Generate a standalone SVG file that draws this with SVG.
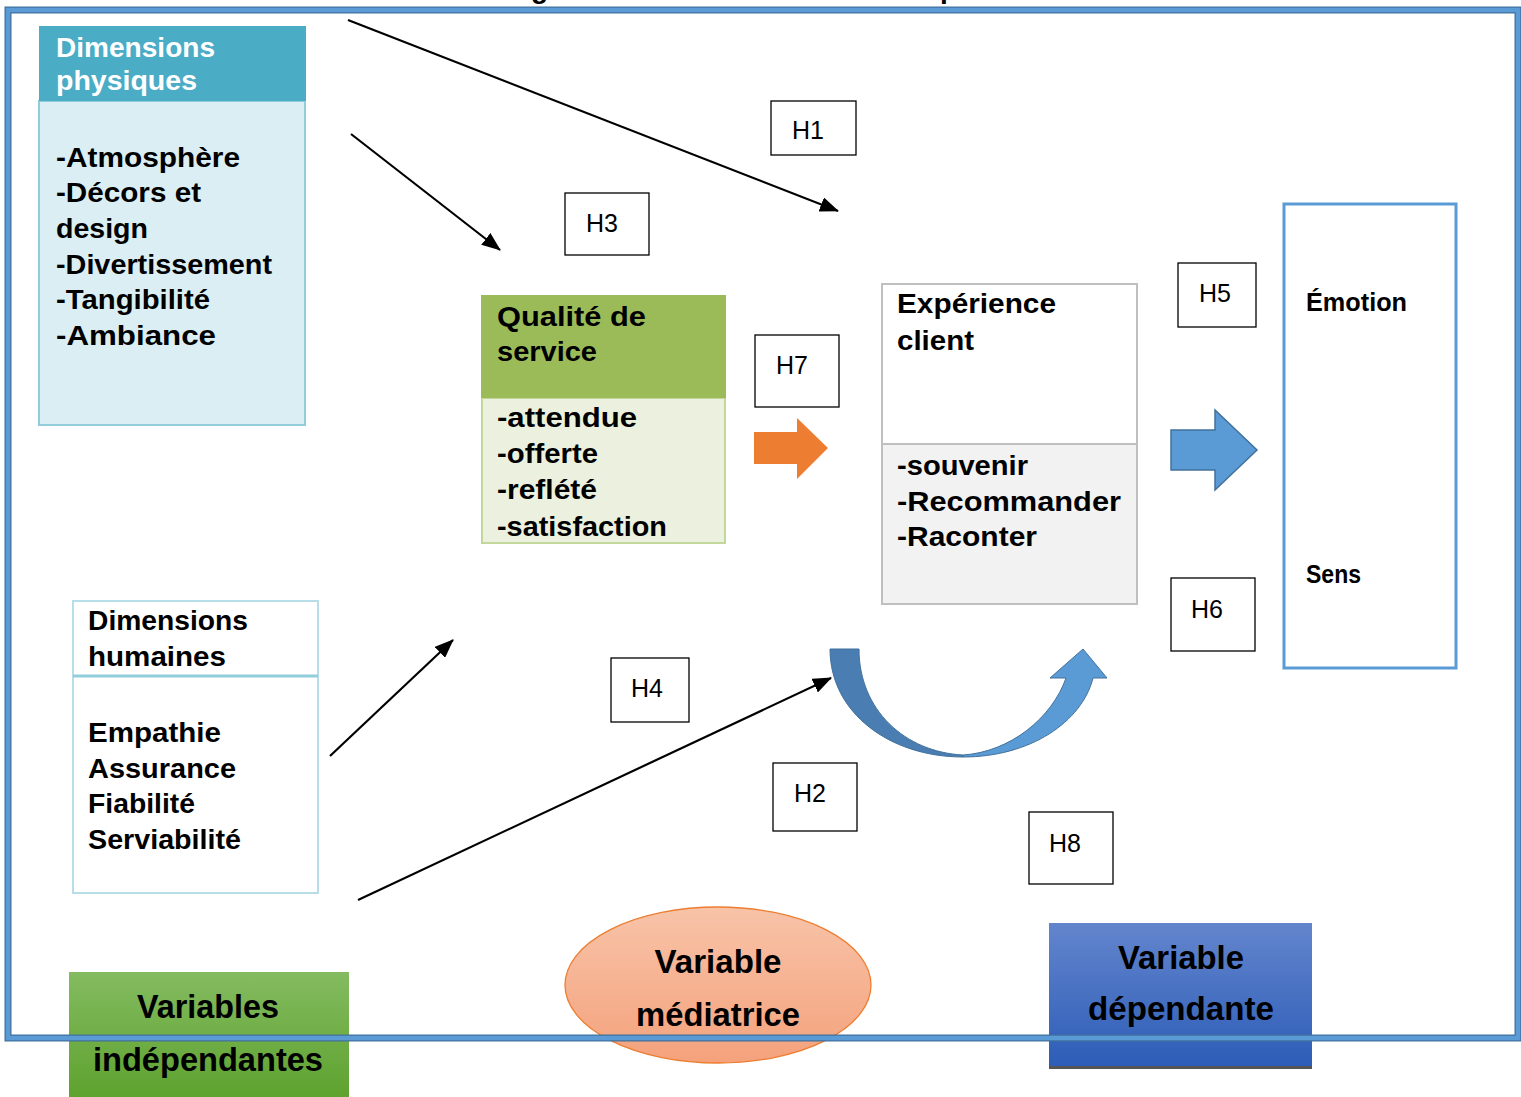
<svg xmlns="http://www.w3.org/2000/svg" width="1521" height="1097" viewBox="0 0 1521 1097">
  <style>
    .box-t { font-family: "Liberation Sans", Arial, sans-serif; font-weight: bold; font-size: 28px; fill: #000; }
    .hd-w { font-family: "Liberation Sans", Arial, sans-serif; font-weight: bold; font-size: 28px; fill: #fff; }
    .hyp { font-family: "Liberation Sans", Arial, sans-serif; font-size: 25px; fill: #000; }
    .hbox { fill: #fff; stroke: #000; stroke-width: 1.3; }
    .side { font-family: "Liberation Sans", Arial, sans-serif; font-weight: bold; font-size: 25px; fill: #000; }
    .legend { font-family: "Liberation Sans", Arial, sans-serif; font-weight: bold; font-size: 33px; fill: #000; text-anchor: middle; }
    .conn { stroke: #000; stroke-width: 2.2; fill: none; marker-end: url(#head); }
  </style>
  <defs>
    <marker id="head" markerUnits="userSpaceOnUse" markerWidth="19" markerHeight="15" refX="18" refY="7.5" orient="auto">
      <path d="M0,0 L19,7.5 L0,15 Z" fill="#000"/>
    </marker>
    <linearGradient id="gGreen" x1="0" y1="0" x2="0" y2="1">
      <stop offset="0" stop-color="#84BB60"/>
      <stop offset="1" stop-color="#5EA22F"/>
    </linearGradient>
    <linearGradient id="gSalmon" x1="0" y1="0" x2="0" y2="1">
      <stop offset="0" stop-color="#F8C3A8"/>
      <stop offset="1" stop-color="#F4A27C"/>
    </linearGradient>
    <linearGradient id="gBlue" x1="0" y1="0" x2="0" y2="1">
      <stop offset="0" stop-color="#6385CD"/>
      <stop offset="1" stop-color="#2D5DB7"/>
    </linearGradient>
  </defs>

  <rect width="1521" height="1097" fill="#fff"/>

  <!-- caption line running above the top edge, only its descenders show -->
  <text x="531" y="-2" class="box-t" font-size="26">g</text>
  <text x="940" y="-2" class="box-t" font-size="26">p</text>

  <!-- legend blocks along the bottom -->
  <g id="legend-independantes">
    <rect x="69" y="972" width="280" height="125" fill="url(#gGreen)"/>
    <text x="208" y="1018" class="legend" textLength="142" lengthAdjust="spacingAndGlyphs">Variables</text>
    <text x="208" y="1071" class="legend" textLength="230" lengthAdjust="spacingAndGlyphs">indépendantes</text>
  </g>
  <g id="legend-mediatrice">
    <ellipse cx="718" cy="985" rx="153" ry="78" fill="url(#gSalmon)" stroke="#ED7D31" stroke-width="1.3"/>
    <text x="718" y="973" class="legend" textLength="127" lengthAdjust="spacingAndGlyphs">Variable</text>
    <text x="718" y="1026" class="legend" textLength="164" lengthAdjust="spacingAndGlyphs">médiatrice</text>
  </g>
  <g id="legend-dependante">
    <rect x="1049" y="1065" width="263" height="4" fill="#555"/>
    <rect x="1049" y="923" width="263" height="143" fill="url(#gBlue)"/>
    <text x="1181" y="969" class="legend" textLength="126" lengthAdjust="spacingAndGlyphs">Variable</text>
    <text x="1181" y="1020" class="legend" textLength="186" lengthAdjust="spacingAndGlyphs">dépendante</text>
  </g>

  <!-- outer frame -->
  <rect x="8" y="10" width="1510" height="1028" fill="none" stroke="#41719C" stroke-width="7"/>
  <rect x="8" y="10" width="1510" height="1028" fill="none" stroke="#5B9BD5" stroke-width="4.5"/>

  <!-- Dimensions physiques -->
  <g id="dimensions-physiques">
    <rect x="39" y="101" width="266" height="324" fill="#DAEEF3" stroke="#92CDDC" stroke-width="2"/>
    <rect x="39" y="26" width="267" height="75" fill="#4BACC6"/>
    <text x="56" y="57" class="hd-w" textLength="159" lengthAdjust="spacingAndGlyphs">Dimensions</text>
    <text x="56" y="90" class="hd-w" textLength="141" lengthAdjust="spacingAndGlyphs">physiques</text>
    <text x="56" y="167" class="box-t" textLength="184" lengthAdjust="spacingAndGlyphs">-Atmosphère</text>
    <text x="56" y="202" class="box-t" textLength="145" lengthAdjust="spacingAndGlyphs">-Décors et</text>
    <text x="56" y="238" class="box-t" textLength="92" lengthAdjust="spacingAndGlyphs">design</text>
    <text x="56" y="274" class="box-t" textLength="216" lengthAdjust="spacingAndGlyphs">-Divertissement</text>
    <text x="56" y="309" class="box-t" textLength="154" lengthAdjust="spacingAndGlyphs">-Tangibilité</text>
    <text x="56" y="345" class="box-t" textLength="160" lengthAdjust="spacingAndGlyphs">-Ambiance</text>
  </g>

  <!-- Qualité de service -->
  <g id="qualite-service">
    <rect x="482" y="398" width="243" height="145" fill="#EBF1DE" stroke="#C3D69B" stroke-width="2"/>
    <rect x="481" y="295" width="245" height="103" fill="#9BBB59"/>
    <text x="497" y="326" class="box-t" textLength="149" lengthAdjust="spacingAndGlyphs">Qualité de</text>
    <text x="497" y="361" class="box-t" textLength="100" lengthAdjust="spacingAndGlyphs">service</text>
    <text x="497" y="427" class="box-t" textLength="140" lengthAdjust="spacingAndGlyphs">-attendue</text>
    <text x="497" y="463" class="box-t" textLength="101" lengthAdjust="spacingAndGlyphs">-offerte</text>
    <text x="497" y="499" class="box-t" textLength="100" lengthAdjust="spacingAndGlyphs">-reflété</text>
    <text x="497" y="536" class="box-t" textLength="170" lengthAdjust="spacingAndGlyphs">-satisfaction</text>
  </g>

  <!-- Expérience client -->
  <g id="experience-client">
    <rect x="882" y="284" width="255" height="160" fill="#fff" stroke="#BFBFBF" stroke-width="2"/>
    <rect x="882" y="444" width="255" height="160" fill="#F2F2F2" stroke="#BFBFBF" stroke-width="2"/>
    <text x="897" y="313" class="box-t" textLength="159" lengthAdjust="spacingAndGlyphs">Expérience</text>
    <text x="897" y="350" class="box-t" textLength="77" lengthAdjust="spacingAndGlyphs">client</text>
    <text x="897" y="475" class="box-t" textLength="131" lengthAdjust="spacingAndGlyphs">-souvenir</text>
    <text x="897" y="511" class="box-t" textLength="224" lengthAdjust="spacingAndGlyphs">-Recommander</text>
    <text x="897" y="546" class="box-t" textLength="140" lengthAdjust="spacingAndGlyphs">-Raconter</text>
  </g>

  <!-- Émotion / Sens -->
  <g id="emotion-sens">
    <rect x="1284" y="204" width="172" height="464" fill="none" stroke="#5B9BD5" stroke-width="3"/>
    <text x="1306" y="311" class="side" textLength="101" lengthAdjust="spacingAndGlyphs">Émotion</text>
    <text x="1306" y="583" class="side" textLength="55" lengthAdjust="spacingAndGlyphs">Sens</text>
  </g>

  <!-- Dimensions humaines -->
  <g id="dimensions-humaines">
    <rect x="73" y="601" width="245" height="292" fill="#fff" stroke="#B7DDE8" stroke-width="2"/>
    <line x1="73" y1="676" x2="318" y2="676" stroke="#92CDDC" stroke-width="3"/>
    <text x="88" y="630" class="box-t" textLength="160" lengthAdjust="spacingAndGlyphs">Dimensions</text>
    <text x="88" y="666" class="box-t" textLength="138" lengthAdjust="spacingAndGlyphs">humaines</text>
    <text x="88" y="742" class="box-t" textLength="133" lengthAdjust="spacingAndGlyphs">Empathie</text>
    <text x="88" y="778" class="box-t" textLength="148" lengthAdjust="spacingAndGlyphs">Assurance</text>
    <text x="88" y="813" class="box-t" textLength="107" lengthAdjust="spacingAndGlyphs">Fiabilité</text>
    <text x="88" y="849" class="box-t" textLength="153" lengthAdjust="spacingAndGlyphs">Serviabilité</text>
  </g>

  <!-- hypothesis labels -->
  <g id="h1"><rect x="771" y="101" width="85" height="54" class="hbox"/><text x="792" y="139" class="hyp">H1</text></g>
  <g id="h3"><rect x="565" y="193" width="84" height="62" class="hbox"/><text x="586" y="232" class="hyp">H3</text></g>
  <g id="h7"><rect x="755" y="335" width="84" height="72" class="hbox"/><text x="776" y="374" class="hyp">H7</text></g>
  <g id="h5"><rect x="1178" y="263" width="78" height="64" class="hbox"/><text x="1199" y="302" class="hyp">H5</text></g>
  <g id="h6"><rect x="1171" y="578" width="84" height="73" class="hbox"/><text x="1191" y="618" class="hyp">H6</text></g>
  <g id="h4"><rect x="611" y="658" width="78" height="64" class="hbox"/><text x="631" y="697" class="hyp">H4</text></g>
  <g id="h2"><rect x="773" y="763" width="84" height="68" class="hbox"/><text x="794" y="802" class="hyp">H2</text></g>
  <g id="h8"><rect x="1029" y="812" width="84" height="72" class="hbox"/><text x="1049" y="852" class="hyp">H8</text></g>

  <!-- block arrows -->
  <g id="arrow-orange">
    <path d="M754,432 L797,432 L797,418 L828,448 L797,479 L797,464 L754,464 Z" fill="#ED7D31"/>
  </g>
  <g id="arrow-blue">
    <path d="M1171,430 L1215,430 L1215,410 L1257,450 L1215,490 L1215,470 L1171,470 Z" fill="#5B9BD5" stroke="#41719C" stroke-width="1.5"/>
  </g>
  <g id="arrow-uturn">
    <path d="M830,649 C830,713 890,757 963,757 L963,755 C905,752 859,710 859,649 Z" fill="#4A7DB2" stroke="#41719C" stroke-width="1"/>
    <path d="M963,757 C1030,757 1082,722 1093,678 L1107,678 L1083,649 L1050,678 L1066,678 C1052,718 1010,752 963,755 Z" fill="#5B9BD5" stroke="#41719C" stroke-width="1"/>
  </g>

  <!-- connectors -->
  <g id="connectors">
    <line x1="348" y1="20" x2="838" y2="211" class="conn"/>
    <line x1="351" y1="134" x2="500" y2="250" class="conn"/>
    <line x1="330" y1="756" x2="453" y2="640" class="conn"/>
    <line x1="358" y1="900" x2="831" y2="678" class="conn"/>
  </g>
</svg>
